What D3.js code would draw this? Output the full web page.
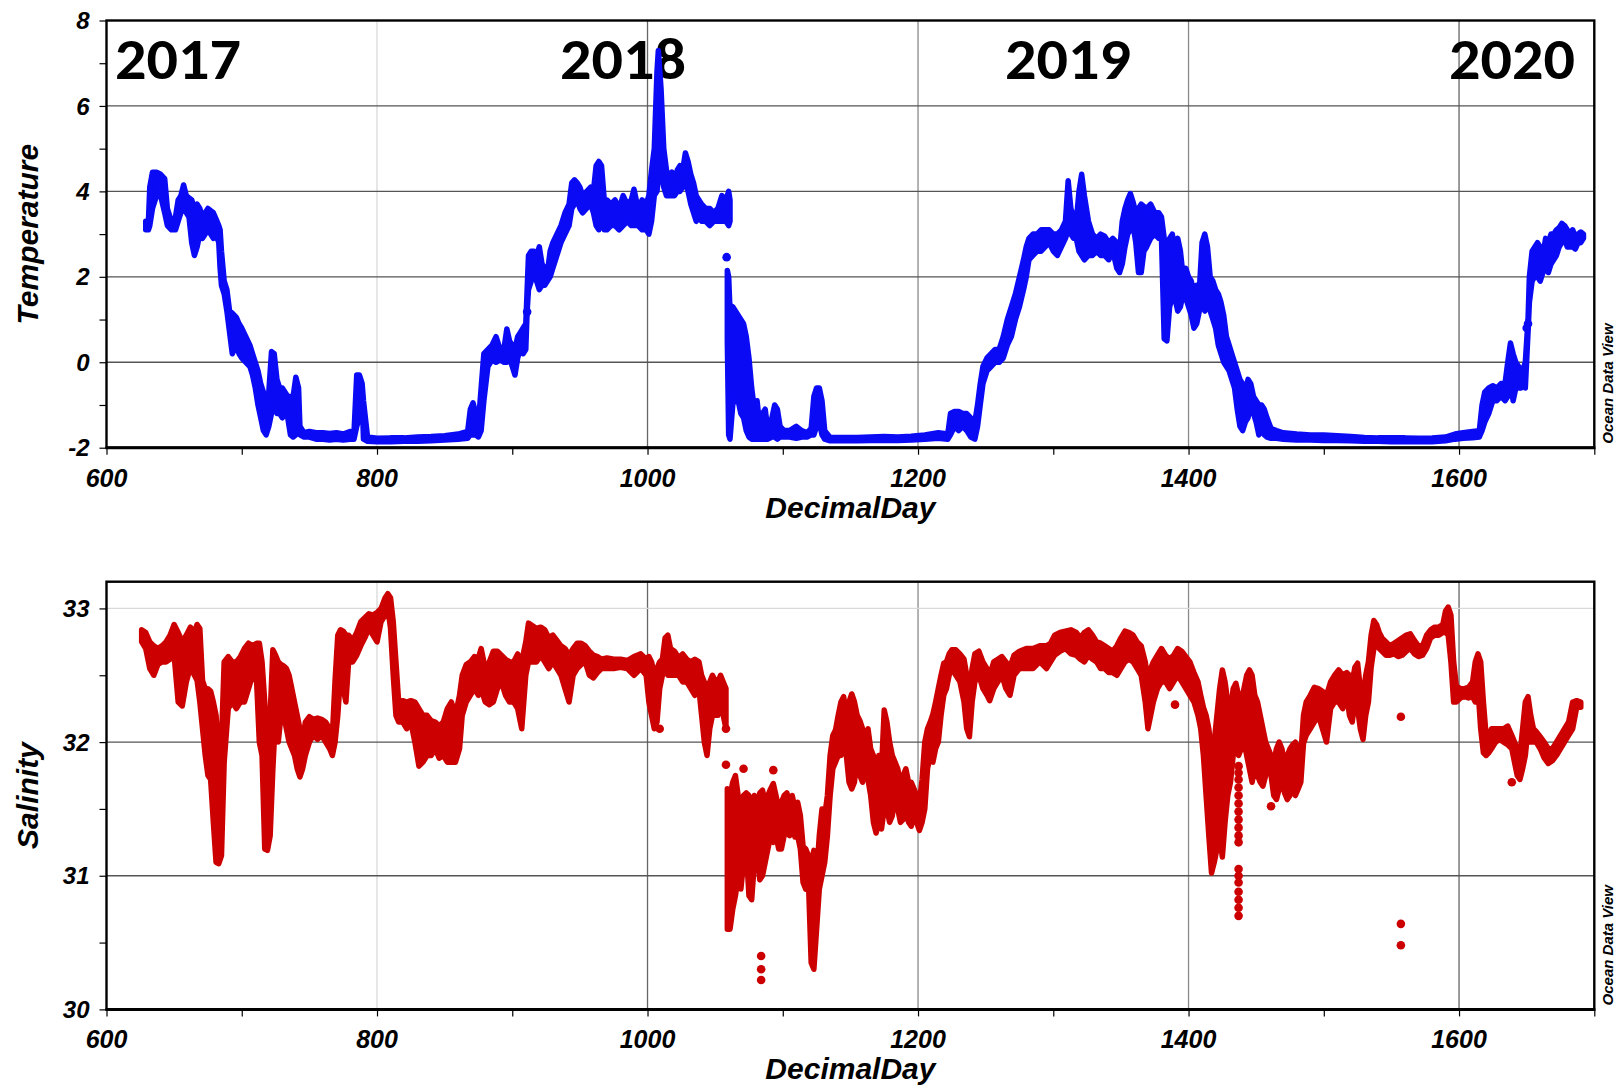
<!DOCTYPE html>
<html><head><meta charset="utf-8">
<script src="https://cdn.jsdelivr.net/npm/d3@7"></script>
<style>body{margin:0;background:#fff}</style>
</head><body>
<svg id="c" width="1617" height="1086"></svg>
<script>
// ---------------- DATA ----------------
const yearLabels = ["2017", "2018", "2019", "2020"];
const xTickValues = [600, 800, 1000, 1200, 1400, 1600];
const xMinorTicks = [700, 900, 1100, 1300, 1500, 1700];
const tempTickValues = [-2, 0, 2, 4, 6, 8];
const tempMinorTicks = [-1, 1, 3, 5, 7];
const salTickValues = [30, 31, 32, 33];
const salMinorTicks = [30.5, 31.5, 32.5];
const tempDomain = [-2, 8];
const salDomain = [30, 33.2];
const dayDomain = [600, 1700];

// Temperature: [DecimalDay, lowest value, highest value] of the point cloud
const temperatureBand = [
[629,3.1,3.3],[631,3.1,3.3],[632,3.2,4.1],[634,3.6,4.45],[637,3.9,4.45],[640,3.9,4.4],[643,3.5,4.3],[645,3.2,3.6],
[648,3.1,3.3],[651,3.1,3.4],[653,3.3,3.8],[655,3.5,3.9],[657,3.6,4.15],[659,3.5,3.9],[661,3.4,3.85],[663,2.8,3.8],
[665,2.5,3.6],[667,2.7,3.7],[669,3.0,3.6],[671,2.9,3.4],[673,3.0,3.5],[675,3.1,3.6],[677,3.0,3.55],[679,2.9,3.5],
[681,3.0,3.35],[683,2.8,3.2],[684,2.2,3.1],[685,1.8,2.6],[687,1.6,1.9],[689,1.2,1.7],[691,0.7,1.2],[693,0.2,1.15],
[696,0.4,1.05],[698,0.2,0.9],[700,0.1,0.8],[703,0.0,0.6],[706,-0.1,0.4],[708,-0.3,0.2],[710,-0.6,0.0],[712,-1.0,-0.2],
[714,-1.3,-0.5],[716,-1.6,-0.7],[718,-1.7,-1.0],[720,-1.5,-0.7],[722,-1.2,0.25],[724,-1.0,0.2],[726,-1.2,-0.4],
[728,-1.2,-0.6],[730,-1.3,-0.6],[732,-1.2,-0.7],[734,-1.3,-0.8],[736,-1.7,-0.8],[738,-1.75,-0.8],[740,-1.7,-0.35],
[742,-1.3,-0.6],[743,-1.7,-1.5],[746,-1.75,-1.65],[750,-1.75,-1.62],[755,-1.8,-1.65],[760,-1.8,-1.65],[765,-1.82,-1.67],
[770,-1.8,-1.65],[775,-1.82,-1.68],[780,-1.8,-1.62],[783,-1.8,-1.65],[785,-1.5,-0.3],[787,-1.3,-0.3],[789,-0.8,-0.5],
[790,-1.8,-0.9],[793,-1.85,-1.75],[800,-1.86,-1.78],[810,-1.86,-1.77],[820,-1.85,-1.77],[830,-1.85,-1.75],
[840,-1.84,-1.74],[850,-1.82,-1.72],[860,-1.8,-1.68],[867,-1.78,-1.62],[869,-1.7,-1.1],[871,-1.7,-0.95],[873,-1.7,-1.2],
[875,-1.75,-1.4],[877,-1.6,-0.6],[879,-0.9,0.2],[882,-0.1,0.3],[885,0.05,0.4],[888,0.0,0.6],[891,0.05,0.3],[894,0.0,0.35],
[896,0.0,0.78],[898,0.1,0.5],[900,-0.1,0.4],[902,-0.3,0.3],[904,0.1,0.6],[906,0.3,0.7],[908,0.2,0.8],[910,0.3,0.9],
[911,1.2,1.7],[912,1.7,2.5],[914,1.9,2.6],[916,2.3,2.6],[918,1.9,2.5],[920,1.7,2.7],[922,1.8,2.3],[924,1.8,2.2],
[926,1.9,2.1],[928,2.0,2.6],[930,2.2,2.8],[933,2.5,3.0],[936,2.8,3.2],[939,3.0,3.5],[942,3.2,3.7],[944,3.6,4.2],
[946,3.7,4.27],[948,3.8,4.2],[950,3.6,4.1],[952,3.5,3.9],[955,3.6,4.0],[958,3.7,4.1],[960,3.5,4.0],[962,3.2,4.6],
[964,3.1,4.7],[966,3.5,4.6],[968,3.1,3.8],[970,3.1,3.8],[973,3.2,3.7],[976,3.2,3.8],[979,3.1,3.6],[982,3.2,3.9],
[985,3.3,3.7],[988,3.2,3.8],[990,3.2,4.05],[993,3.2,3.6],[996,3.1,3.8],[999,3.1,3.7],[1001,3.0,3.9],[1003,3.3,4.5],
[1005,3.9,5.0],[1007,4.0,6.8],[1008,4.3,7.3],[1010,4.5,6.4],[1012,4.1,5.0],[1014,3.9,4.5],[1016,3.9,4.3],[1018,3.9,4.45],
[1020,3.9,4.2],[1022,4.0,4.5],[1024,4.0,4.6],[1026,4.1,4.5],[1028,4.2,4.9],[1030,4.0,4.7],[1032,3.7,4.4],[1034,3.5,4.2],
[1036,3.3,3.9],[1038,3.4,3.8],[1040,3.3,3.7],[1043,3.3,3.6],[1046,3.2,3.6],[1049,3.3,3.5],[1052,3.3,3.6],[1055,3.3,3.9],
[1058,3.3,3.8],[1060,3.2,4.0],[1061,3.3,3.8],
null,
[1059,0.5,2.15],[1060,-1.7,2.0],[1061,-1.8,1.2],[1063,-1.0,1.3],[1065,-0.8,1.2],[1067,-0.9,1.1],[1069,-1.2,1.0],
[1071,-1.3,0.9],[1073,-1.6,0.6],[1075,-1.75,0.1],[1077,-1.8,-0.6],[1079,-1.8,-1.1],[1081,-1.8,-0.9],[1083,-1.8,-1.5],
[1085,-1.8,-1.2],[1087,-1.8,-1.1],[1089,-1.8,-1.6],[1092,-1.75,-1.3],[1094,-1.75,-1.0],[1096,-1.8,-1.1],[1098,-1.75,-1.5],
[1101,-1.75,-1.6],[1105,-1.75,-1.6],[1110,-1.78,-1.5],[1114,-1.75,-1.6],[1118,-1.75,-1.65],[1121,-1.7,-1.55],
[1123,-1.7,-0.8],[1125,-1.5,-0.6],[1127,-1.4,-0.6],[1129,-1.7,-0.9],[1131,-1.8,-1.6],[1135,-1.84,-1.76],[1145,-1.84,-1.76],
[1155,-1.84,-1.76],[1165,-1.83,-1.75],[1175,-1.83,-1.74],[1185,-1.83,-1.75],[1195,-1.82,-1.73],[1205,-1.8,-1.7],
[1215,-1.78,-1.65],[1222,-1.8,-1.68],[1224,-1.7,-1.2],[1227,-1.5,-1.15],[1230,-1.6,-1.15],[1233,-1.5,-1.2],
[1236,-1.6,-1.2],[1239,-1.75,-1.3],[1242,-1.8,-1.4],[1244,-1.5,-1.0],[1246,-1.0,-0.5],[1248,-0.5,-0.1],[1251,-0.2,0.1],
[1254,-0.1,0.2],[1257,0.0,0.3],[1260,0.0,0.3],[1263,0.1,0.6],[1266,0.4,1.0],[1269,0.6,1.3],[1272,1.0,1.6],[1275,1.3,2.0],
[1278,1.7,2.4],[1280,2.0,2.7],[1282,2.4,2.9],[1285,2.5,3.0],[1288,2.6,3.0],[1291,2.6,3.1],[1294,2.7,3.1],[1297,2.8,3.1],
[1300,2.6,3.0],[1303,2.5,3.0],[1306,2.7,3.1],[1309,2.9,3.3],[1311,3.1,4.25],[1313,3.0,3.6],[1315,2.9,3.4],[1317,2.9,3.3],
[1319,2.6,4.0],[1321,2.5,4.4],[1323,2.4,3.9],[1326,2.5,3.3],[1329,2.5,3.0],[1332,2.6,2.9],[1335,2.5,3.0],[1338,2.5,2.95],
[1341,2.4,2.8],[1344,2.6,2.9],[1347,2.2,2.8],[1349,2.1,2.6],[1351,2.3,3.3],[1353,2.7,3.6],[1355,3.0,3.8],[1357,3.1,3.95],
[1359,3.2,3.75],[1361,2.8,3.5],[1363,2.1,3.6],[1365,2.1,3.7],[1367,2.6,3.65],[1369,2.7,3.6],[1372,2.9,3.7],[1375,3.0,3.5],
[1378,2.9,3.5],[1380,2.9,3.4],[1382,0.55,2.9],[1384,0.5,2.3],[1386,1.3,2.9],[1388,1.5,3.0],[1390,1.5,2.6],[1392,1.2,2.9],
[1394,1.3,2.6],[1396,1.6,2.0],[1398,1.5,2.2],[1400,1.3,2.0],[1402,1.1,1.9],[1404,0.8,1.6],[1406,0.9,1.8],[1408,1.2,1.7],
[1410,1.4,2.8],[1412,1.2,3.0],[1414,1.3,2.7],[1416,1.2,2.0],[1418,1.0,1.9],[1420,0.8,1.7],[1422,0.4,1.6],[1424,0.2,1.4],
[1426,0.0,1.1],[1428,-0.1,0.6],[1430,-0.2,0.4],[1432,-0.4,0.2],[1434,-0.6,0.0],[1436,-1.1,-0.2],[1438,-1.5,-0.4],
[1440,-1.6,-0.5],[1442,-1.4,-0.7],[1444,-1.3,-0.4],[1446,-1.0,-0.5],[1448,-1.2,-0.8],[1450,-1.4,-0.9],[1452,-1.7,-1.0],
[1454,-1.6,-1.0],[1456,-1.7,-1.1],[1458,-1.75,-1.3],[1461,-1.78,-1.55],[1465,-1.78,-1.6],[1470,-1.8,-1.65],
[1480,-1.82,-1.68],[1490,-1.82,-1.7],[1500,-1.83,-1.7],[1510,-1.83,-1.72],[1520,-1.84,-1.74],[1530,-1.85,-1.76],
[1540,-1.85,-1.77],[1550,-1.86,-1.77],[1560,-1.86,-1.77],[1570,-1.86,-1.78],[1580,-1.86,-1.77],[1590,-1.84,-1.75],
[1597,-1.8,-1.68],[1603,-1.78,-1.65],[1610,-1.77,-1.62],[1615,-1.75,-1.6],[1617,-1.6,-1.0],[1619,-1.4,-0.7],
[1622,-1.2,-0.6],[1625,-0.9,-0.55],[1628,-0.9,-0.6],[1631,-0.8,-0.5],[1634,-0.9,-0.5],[1636,-0.8,0.0],[1638,-0.5,0.45],
[1640,-0.9,0.2],[1642,-0.6,0.0],[1644,-0.6,-0.1],[1646,-0.6,-0.2],[1648,-0.5,-0.1],[1649,-0.6,0.0],[1651,0.7,1.0],
[1652,1.4,2.0],[1654,1.9,2.6],[1656,2.0,2.7],[1658,2.0,2.8],[1660,1.9,2.7],[1662,2.1,2.5],[1664,2.2,2.9],[1666,2.1,2.8],
[1668,2.3,3.0],[1670,2.4,3.0],[1672,2.5,3.1],[1674,2.7,3.15],[1676,2.8,3.25],[1678,2.9,3.2],[1680,2.7,3.1],[1682,2.7,3.0],
[1684,2.7,3.1],[1686,2.65,2.95],[1688,2.8,3.0],[1690,2.8,3.05],[1692,2.9,3.0]
];
// isolated temperature points [DecimalDay, value]
const temperatureOutliers = [[1058.5,2.46],[911,1.18],[1651,0.9],[1650,0.8]];

// Salinity: [DecimalDay, lowest value, highest value] of the point cloud
const salinityBand = [
[626,32.75,32.84],[629,32.7,32.82],[632,32.55,32.75],[635,32.5,32.72],[638,32.58,32.7],[641,32.6,32.72],[644,32.6,32.75],
[647,32.62,32.8],[650,32.65,32.88],[653,32.3,32.82],[656,32.27,32.75],[659,32.45,32.8],[662,32.56,32.86],[665,32.5,32.82],
[667,32.46,32.88],[669,32.3,32.85],[671,32.1,32.46],[673,31.9,32.4],[675,31.75,32.4],[677,31.72,32.38],[679,31.4,32.3],
[681,31.1,32.2],[683,31.09,31.9],[685,31.15,32.0],[687,31.85,32.6],[690,32.25,32.64],[693,32.3,32.6],[696,32.25,32.6],
[699,32.3,32.64],[702,32.3,32.7],[705,32.4,32.74],[708,32.5,32.72],[711,32.45,32.74],[713,32.0,32.74],[715,31.9,32.6],
[717,31.2,32.3],[719,31.19,31.9],[721,31.3,32.2],[723,31.8,32.69],[725,32.2,32.65],[727,32.0,32.6],[729,32.2,32.58],
[731,32.2,32.57],[733,32.1,32.55],[735,32.0,32.5],[737,31.95,32.4],[739,31.9,32.3],[741,31.8,32.2],[743,31.74,32.1],
[745,31.8,32.0],[747,31.9,32.15],[750,32.0,32.19],[753,32.05,32.17],[756,32.02,32.18],[759,32.05,32.17],[762,32.0,32.15],
[765,31.95,32.1],[767,31.9,32.05],[769,32.0,32.46],[771,32.2,32.8],[773,32.5,32.84],[775,32.4,32.83],[777,32.3,32.8],
[779,32.6,32.8],[782,32.6,32.76],[785,32.65,32.82],[788,32.72,32.9],[791,32.78,32.93],[794,32.85,32.96],[797,32.8,32.95],
[800,32.75,32.97],[803,32.9,33.0],[806,32.95,33.08],[808,33.0,33.11],[810,32.85,33.08],[812,32.5,32.9],[814,32.2,32.6],
[816,32.15,32.3],[819,32.15,32.31],[822,32.1,32.3],[825,32.15,32.31],[828,32.0,32.3],[831,31.82,32.25],[834,31.85,32.2],
[837,31.9,32.2],[840,31.9,32.16],[843,31.95,32.15],[846,31.88,32.12],[849,31.9,32.15],[852,31.85,32.25],[855,31.85,32.3],
[858,31.85,32.2],[861,31.95,32.35],[863,32.2,32.5],[866,32.3,32.58],[869,32.35,32.6],[872,32.4,32.64],[875,32.35,32.63],
[877,32.4,32.7],[880,32.3,32.55],[883,32.28,32.6],[886,32.3,32.68],[889,32.4,32.68],[892,32.45,32.65],[895,32.35,32.62],
[898,32.3,32.6],[901,32.3,32.6],[904,32.25,32.66],[907,32.1,32.6],[910,32.5,32.75],[912,32.6,32.89],[915,32.6,32.87],
[918,32.6,32.85],[921,32.65,32.86],[924,32.6,32.84],[927,32.55,32.78],[930,32.6,32.8],[933,32.55,32.76],[936,32.5,32.72],
[939,32.4,32.7],[942,32.3,32.65],[945,32.5,32.7],[948,32.55,32.74],[951,32.58,32.74],[954,32.6,32.72],[957,32.5,32.68],
[960,32.48,32.65],[963,32.52,32.64],[966,32.55,32.62],[970,32.55,32.63],[975,32.55,32.62],[980,32.56,32.62],
[985,32.55,32.61],[990,32.5,32.64],[995,32.55,32.66],[999,32.5,32.62],[1001,32.3,32.64],[1003,32.2,32.6],[1005,32.1,32.5],
[1007,32.15,32.55],[1009,32.4,32.6],[1011,32.5,32.62],[1013,32.55,32.78],[1015,32.5,32.8],[1017,32.5,32.7],[1020,32.5,32.68],
[1023,32.5,32.63],[1026,32.45,32.66],[1029,32.45,32.62],[1032,32.4,32.6],[1035,32.35,32.62],[1038,32.4,32.6],
[1040,32.2,32.5],[1042,32.0,32.45],[1044,31.9,32.3],[1046,32.1,32.45],[1048,32.2,32.5],[1050,32.2,32.46],[1052,32.2,32.45],
[1054,32.3,32.5],[1056,32.2,32.45],[1058,32.1,32.4],
null,
[1059,30.6,31.65],[1061,30.6,31.6],[1063,30.75,31.7],[1065,30.85,31.75],[1067,31.0,31.6],[1069,30.9,31.55],[1071,31.1,31.6],
[1073,31.2,31.62],[1075,30.85,31.6],[1077,30.82,31.5],[1079,31.1,31.6],[1081,31.2,31.5],[1083,30.97,31.62],[1085,31.0,31.64],
[1087,31.1,31.55],[1089,31.2,31.6],[1091,31.3,31.65],[1093,31.25,31.69],[1095,31.3,31.6],[1097,31.2,31.5],[1099,31.2,31.55],
[1101,31.3,31.6],[1103,31.35,31.62],[1105,31.3,31.55],[1107,31.4,31.6],[1109,31.29,31.5],[1111,31.3,31.55],[1113,31.2,31.45],
[1115,30.95,31.22],[1117,30.9,31.2],[1119,30.95,31.15],[1121,30.35,31.1],[1123,30.3,31.19],[1125,30.6,31.0],[1127,30.9,31.3],
[1129,31.0,31.5],[1131,31.1,31.45],[1133,31.3,31.6],[1135,31.6,31.9],[1137,31.8,32.05],[1139,31.85,32.09],[1141,31.9,32.2],
[1143,31.9,32.3],[1145,31.95,32.34],[1147,31.9,32.2],[1149,31.7,32.3],[1151,31.65,32.36],[1153,31.7,32.3],[1155,31.9,32.2],
[1157,31.75,32.16],[1159,31.7,32.1],[1161,31.8,32.05],[1163,31.72,32.1],[1165,31.6,31.95],[1167,31.4,31.9],[1169,31.32,31.8],
[1171,31.4,31.9],[1173,31.35,31.8],[1175,31.5,32.24],[1177,31.5,32.15],[1179,31.4,32.0],[1181,31.45,31.9],[1183,31.6,31.85],
[1185,31.5,31.8],[1187,31.4,31.7],[1189,31.42,31.75],[1191,31.5,31.8],[1193,31.4,31.7],[1195,31.37,31.7],[1197,31.45,31.65],
[1199,31.4,31.6],[1201,31.34,31.55],[1203,31.4,31.72],[1205,31.5,32.0],[1207,31.8,32.1],[1209,31.9,32.15],[1211,31.85,32.21],
[1213,31.95,32.3],[1215,32.0,32.4],[1217,32.2,32.5],[1219,32.35,32.59],[1221,32.4,32.6],[1223,32.5,32.66],[1225,32.55,32.69],
[1228,32.5,32.69],[1231,32.45,32.66],[1234,32.3,32.62],[1236,32.1,32.5],[1238,32.04,32.4],[1240,32.3,32.55],[1242,32.45,32.66],
[1245,32.5,32.68],[1248,32.4,32.6],[1251,32.35,32.55],[1253,32.31,32.5],[1256,32.4,32.6],[1259,32.45,32.62],[1262,32.5,32.64],
[1265,32.4,32.6],[1268,32.35,32.56],[1271,32.5,32.65],[1275,32.55,32.68],[1280,32.55,32.7],[1285,32.55,32.7],[1290,32.6,32.72],
[1295,32.55,32.72],[1298,32.6,32.74],[1301,32.65,32.8],[1305,32.68,32.82],[1309,32.7,32.83],[1313,32.66,32.84],
[1317,32.65,32.82],[1320,32.62,32.78],[1323,32.6,32.82],[1326,32.65,32.84],[1329,32.62,32.8],[1332,32.6,32.75],
[1335,32.55,32.74],[1338,32.55,32.72],[1341,32.52,32.7],[1344,32.52,32.68],[1347,32.5,32.72],[1350,32.55,32.78],
[1353,32.6,32.83],[1356,32.62,32.82],[1359,32.6,32.8],[1362,32.55,32.75],[1365,32.5,32.72],[1368,32.3,32.6],[1370,32.1,32.45],
[1372,32.2,32.55],[1374,32.3,32.6],[1377,32.4,32.65],[1380,32.45,32.7],[1383,32.45,32.65],[1386,32.4,32.62],[1389,32.45,32.65],
[1392,32.5,32.7],[1395,32.45,32.68],[1398,32.4,32.64],[1401,32.35,32.6],[1404,32.3,32.52],[1407,32.2,32.45],[1409,32.1,32.35],
[1411,31.9,32.26],[1413,31.6,32.2],[1415,31.3,32.1],[1417,31.02,31.9],[1419,31.1,32.0],[1421,31.2,32.2],[1423,31.3,32.4],
[1425,31.14,32.54],[1427,31.4,32.45],[1429,31.6,32.3],[1431,31.7,32.2],[1433,31.9,32.4],[1435,31.97,32.44],[1437,31.9,32.35],
[1439,31.95,32.3],[1441,32.0,32.4],[1443,31.9,32.5],[1445,31.8,32.54],[1447,31.7,32.5],[1449,31.8,32.35],[1451,31.75,32.3],
[1453,31.7,32.2],[1455,31.67,32.1],[1457,31.75,32.0],[1459,31.8,31.95],[1461,31.75,31.9],[1463,31.6,31.85],[1465,31.57,31.95],
[1467,31.65,32.0],[1469,31.7,31.95],[1471,31.62,31.85],[1473,31.57,31.9],[1475,31.6,31.95],[1477,31.7,31.98],[1479,31.6,32.0],
[1481,31.65,31.95],[1483,31.7,31.9],[1485,31.99,32.2],[1487,32.05,32.3],[1490,32.1,32.35],[1493,32.15,32.41],[1496,32.2,32.4],
[1499,32.1,32.38],[1502,32.0,32.35],[1505,32.25,32.45],[1508,32.3,32.5],[1511,32.3,32.54],[1514,32.25,32.5],[1517,32.35,32.52],
[1519,32.2,32.5],[1521,32.15,32.45],[1523,32.3,32.56],[1525,32.25,32.59],[1527,32.1,32.4],[1529,32.02,32.35],[1531,32.2,32.5],
[1533,32.3,32.6],[1535,32.56,32.8],[1537,32.7,32.91],[1539,32.72,32.88],[1541,32.7,32.82],[1543,32.68,32.78],[1546,32.65,32.75],
[1549,32.65,32.72],[1552,32.66,32.74],[1555,32.64,32.76],[1558,32.65,32.78],[1561,32.68,32.8],[1564,32.7,32.81],
[1567,32.66,32.76],[1570,32.64,32.72],[1573,32.65,32.72],[1576,32.7,32.8],[1579,32.78,32.84],[1582,32.8,32.86],
[1585,32.8,32.86],[1588,32.82,32.88],[1590,32.82,32.98],[1592,32.8,33.01],[1594,32.6,32.95],[1596,32.3,32.6],[1598,32.3,32.42],
[1601,32.33,32.4],[1604,32.34,32.4],[1607,32.33,32.41],[1610,32.34,32.45],[1612,32.3,32.6],[1614,32.4,32.66],[1616,32.1,32.6],
[1618,31.92,32.3],[1620,31.9,32.05],[1622,31.92,32.05],[1624,31.95,32.1],[1627,32.0,32.1],[1630,32.02,32.1],[1633,32.0,32.1],
[1636,31.98,32.12],[1639,31.95,32.05],[1641,31.85,32.0],[1643,31.75,31.95],[1645,31.72,31.9],[1647,31.8,32.1],[1649,31.9,32.3],
[1651,32.1,32.34],[1653,32.0,32.2],[1655,32.0,32.1],[1657,32.0,32.08],[1660,31.95,32.04],[1663,31.88,32.0],[1666,31.84,31.95],
[1669,31.86,31.95],[1672,31.9,32.0],[1675,31.95,32.05],[1678,32.0,32.1],[1681,32.05,32.15],[1684,32.1,32.3],[1687,32.26,32.31],
[1690,32.26,32.3]
];
// isolated salinity points [DecimalDay, value]
const salinityOutliers = [
[1058,32.1],[1058,31.83],[1009,32.1],[1071,31.8],[1093,31.79],[1084,30.4],[1084,30.3],[1084,30.22],
[1437,31.82],[1437,31.77],[1437,31.72],[1437,31.66],[1437,31.6],[1437,31.54],[1437,31.48],[1437,31.42],[1437,31.36],
[1437,31.3],[1437,31.25],[1437,31.05],[1437,31.0],[1437,30.95],[1437,30.88],[1437,30.82],[1437,30.76],[1437,30.7],
[1390,32.28],[1461,31.52],[1557,32.19],[1557,30.64],[1557,30.48],[1639,31.7]
];

// ---------------- DRAWING ----------------
const svg = d3.select("#c");
const plotL = 106.5, plotR = 1594.3;
const x = d3.scaleLinear().domain(dayDomain).range([plotL, plotR]);
const tickFont = "'Liberation Sans', Arial, sans-serif";

function panel(cfg) {
  const y = d3.scaleLinear().domain(cfg.domain).range([cfg.bottom, cfg.top]);
  const g = svg.append("g");

  // vertical grid lines
  g.selectAll("line.vg").data(xTickValues.filter(d => d > dayDomain[0])).join("line")
    .attr("x1", d => x(d)).attr("x2", d => x(d)).attr("y1", cfg.top).attr("y2", cfg.bottom)
    .attr("stroke", d => d === 800 ? "#d9d9d9" : (d === 1200 || d === 1400 ? "#8a8a8a" : "#666"))
    .attr("stroke-width", 1.3);
  // horizontal grid lines
  g.selectAll("line.hg").data(cfg.ticks.filter(d => d > cfg.domain[0] && d < cfg.domain[1])).join("line")
    .attr("x1", plotL).attr("x2", plotR).attr("y1", d => y(d)).attr("y2", d => y(d))
    .attr("stroke", d => cfg.lightTicks.includes(d) ? "#d9d9d9" : "#555")
    .attr("stroke-width", 1.3);

  // axes ticks
  const yAxis = d3.axisLeft(y).tickValues(cfg.ticks.concat(cfg.minor)).tickSize(7).tickFormat("");
  g.append("g").attr("transform", `translate(${plotL},0)`).call(yAxis)
    .call(s => s.select(".domain").remove())
    .selectAll("line").attr("stroke", "#000").attr("stroke-width", 1.2);
  const xAxis = d3.axisBottom(x).tickValues(xTickValues.concat(xMinorTicks)).tickSize(7).tickFormat("");
  g.append("g").attr("transform", `translate(0,${cfg.bottom})`).call(xAxis)
    .call(s => s.select(".domain").remove())
    .selectAll("line").attr("stroke", "#000").attr("stroke-width", 1.2);

  // tick labels
  g.selectAll("text.yl").data(cfg.ticks).join("text")
    .attr("x", plotL - 17).attr("y", d => y(d)).attr("dy", "0.36em")
    .attr("text-anchor", "end").attr("font-family", tickFont)
    .attr("font-weight", "bold").attr("font-style", "italic").attr("font-size", 24)
    .text(d => d);
  g.selectAll("text.xl").data(xTickValues).join("text")
    .attr("x", d => x(d)).attr("y", cfg.bottom + 39)
    .attr("text-anchor", "middle").attr("font-family", tickFont)
    .attr("font-weight", "bold").attr("font-style", "italic").attr("font-size", 25)
    .text(d => d);

  // axis titles
  g.append("text").attr("x", (plotL + plotR) / 2).attr("y", cfg.bottom + 70)
    .attr("text-anchor", "middle").attr("font-family", tickFont)
    .attr("font-weight", "bold").attr("font-style", "italic").attr("font-size", 30)
    .text("DecimalDay");
  g.append("text").attr("transform", `translate(38,${(cfg.top + cfg.bottom) / 2}) rotate(-90)`)
    .attr("text-anchor", "middle").attr("font-family", tickFont)
    .attr("font-weight", "bold").attr("font-style", "italic").attr("font-size", 30)
    .text(cfg.title);
  g.append("text").attr("transform", `translate(1613,${cfg.bottom - 4}) rotate(-90)`)
    .attr("text-anchor", "start").attr("font-family", tickFont)
    .attr("font-weight", "bold").attr("font-style", "italic").attr("font-size", 15)
    .text("Ocean Data View");

  if (cfg.years) cfg.years(g);

  // data cloud
  const clip = "clip" + cfg.title;
  svg.append("clipPath").attr("id", clip).append("rect")
    .attr("x", plotL).attr("y", cfg.top).attr("width", plotR - plotL).attr("height", cfg.bottom - cfg.top);
  const area = d3.area().defined(d => d !== null)
    .x(d => x(d[0])).y0(d => y(d[1])).y1(d => y(d[2]));
  const dg = g.append("g").attr("clip-path", `url(#${clip})`);
  dg.append("path").datum(cfg.band).attr("d", area)
    .attr("fill", cfg.color).attr("stroke", cfg.color).attr("stroke-width", 5.5)
    .attr("stroke-linejoin", "round").attr("stroke-linecap", "round");
  dg.selectAll("circle").data(cfg.outliers).join("circle")
    .attr("cx", d => x(d[0])).attr("cy", d => y(d[1])).attr("r", 4.3).attr("fill", cfg.color);

  // frame
  g.append("rect").attr("x", plotL).attr("y", cfg.top).attr("width", plotR - plotL).attr("height", cfg.bottom - cfg.top)
    .attr("fill", "none").attr("stroke", "#000").attr("stroke-width", 2.4);
  g.append("line").attr("x1", plotL - 1).attr("x2", plotR + 1).attr("y1", cfg.bottom).attr("y2", cfg.bottom)
    .attr("stroke", "#000").attr("stroke-width", 3);
}

const yearLeft = [115, 560, 1005, 1449];
panel({
  title: "Temperature", domain: tempDomain, top: 20.5, bottom: 447.7,
  ticks: tempTickValues, minor: tempMinorTicks, lightTicks: [],
  band: temperatureBand, outliers: temperatureOutliers, color: "#0a0af5",
  years: g => {
    g.selectAll("text.yr").data(yearLabels).join("text")
      .attr("x", (d, i) => yearLeft[i]).attr("y", 79)
      .attr("font-family", "Carlito, 'Open Sans', sans-serif").attr("font-weight", "bold")
      .attr("font-size", 58).attr("textLength", 126).attr("lengthAdjust", "spacingAndGlyphs")
      .attr("fill", "#000").text(d => d);
  }
});
panel({
  title: "Salinity", domain: salDomain, top: 581.7, bottom: 1009.4,
  ticks: salTickValues, minor: salMinorTicks, lightTicks: [33],
  band: salinityBand, outliers: salinityOutliers, color: "#cc0000"
});
</script>
</body></html>
